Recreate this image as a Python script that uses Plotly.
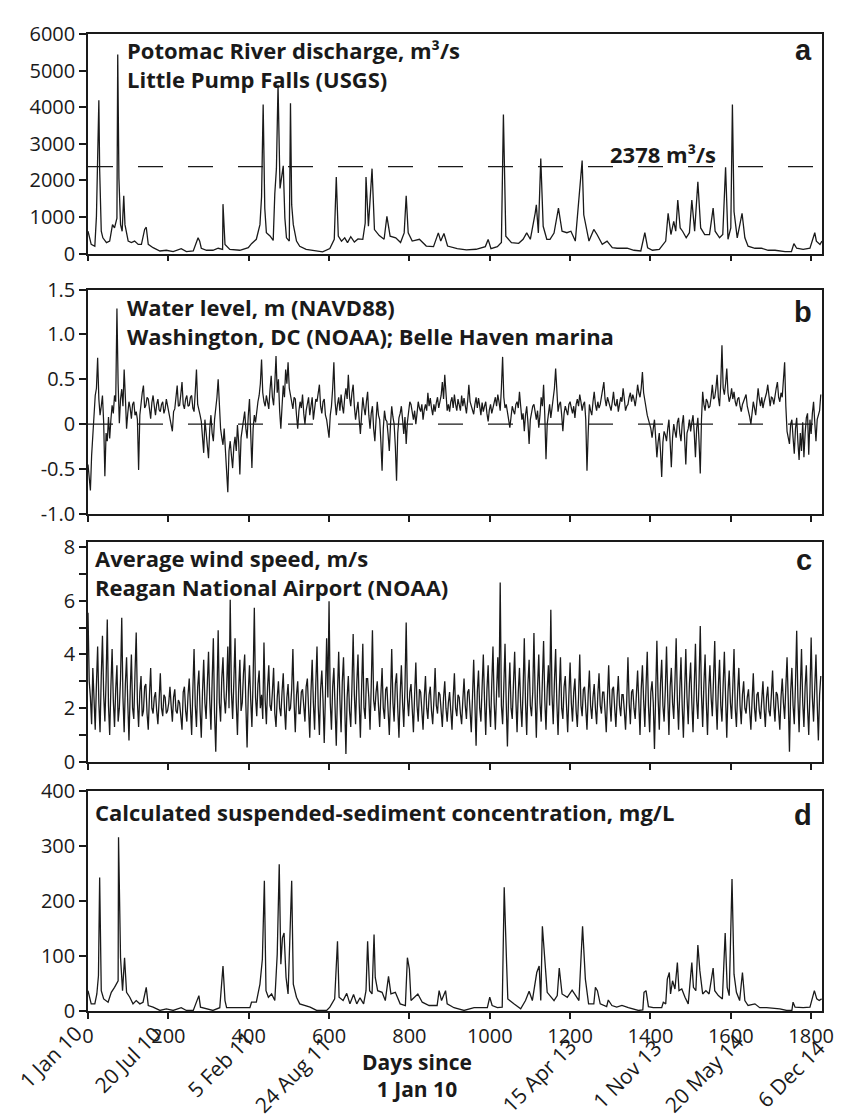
import plotly.graph_objects as go

# ---------------- data ----------------
# Panel a: Potomac River discharge (m3/s), (day since 1 Jan 10, value)
Q_POINTS = [
    (0, 610), (8, 250), (17, 200), (21, 1015), (27, 4190), (29, 2300), (33, 610), (37, 430),
    (46, 300), (54, 340), (61, 790), (66, 700), (72, 970), (74, 5440), (77, 2050), (81, 790),
    (85, 610), (89, 1580), (92, 790), (96, 540), (100, 340), (108, 300), (116, 340), (125, 250),
    (133, 250), (141, 660), (145, 720), (150, 250), (162, 160), (179, 70), (195, 90), (212, 55),
    (232, 135), (245, 55), (262, 70), (274, 430), (278, 340), (282, 145), (295, 90), (311, 90),
    (324, 145), (335, 115), (336, 1350), (341, 250), (353, 115), (378, 90), (399, 160), (407, 270),
    (419, 390), (428, 790), (432, 1550), (436, 4070), (440, 1240), (444, 570), (453, 480), (461, 360),
    (465, 1640), (469, 2320), (473, 4610), (478, 1780), (482, 2140), (486, 2400), (490, 970), (494, 430),
    (501, 340), (504, 4110), (507, 1330), (511, 790), (519, 340), (527, 200), (543, 117), (566, 72),
    (584, 45), (602, 135), (613, 390), (618, 2090), (623, 480), (631, 340), (639, 430), (646, 300),
    (654, 460), (663, 315), (672, 400), (684, 390), (690, 835), (692, 2090), (698, 745), (707, 2320),
    (713, 655), (725, 490), (737, 390), (744, 1015), (752, 475), (766, 430), (778, 300), (787, 565),
    (792, 1580), (797, 565), (807, 340), (825, 390), (842, 205), (860, 190), (872, 565), (878, 340),
    (886, 548), (895, 205), (919, 135), (942, 100), (966, 117), (989, 190), (996, 386), (1003, 135),
    (1019, 190), (1029, 300), (1034, 3800), (1040, 475), (1054, 300), (1072, 280), (1083, 390), (1092, 565),
    (1101, 390), (1113, 1100), (1116, 1330), (1121, 565), (1127, 2600), (1133, 745), (1142, 390), (1150, 390),
    (1160, 560), (1171, 1240), (1180, 610), (1192, 570), (1202, 610), (1213, 340), (1230, 2540), (1234, 1060),
    (1247, 340), (1259, 660), (1267, 520), (1280, 250), (1292, 340), (1305, 160), (1317, 145), (1342, 145),
    (1359, 90), (1376, 70), (1386, 570), (1393, 160), (1405, 90), (1422, 115), (1438, 340), (1444, 1100),
    (1451, 520), (1458, 880), (1463, 610), (1468, 1460), (1474, 700), (1480, 610), (1489, 430), (1497, 570),
    (1503, 1460), (1510, 610), (1518, 1960), (1525, 700), (1535, 520), (1547, 520), (1556, 1240), (1561, 610),
    (1572, 430), (1580, 520), (1587, 2360), (1593, 390), (1600, 700), (1604, 4070), (1608, 1150), (1616, 430),
    (1628, 1100), (1635, 430), (1643, 200), (1660, 145), (1676, 145), (1693, 90), (1710, 90), (1735, 55),
    (1751, 55), (1757, 270), (1764, 145), (1780, 115), (1797, 145), (1809, 570), (1813, 340), (1822, 250),
    (1827, 340),
]
Q_THRESHOLD = 2378

# Panel b: water level (m, NAVD88), one value every 3 days from day 0
WL_STEP_DAYS = 3
WL_VALUES = [
    -0.45, -0.62, -0.74, -0.35, -0.10, 0.12, 0.32, 0.40, 0.74, 0.28, 0.10, 0.20, 0.32, 0.02, -0.58, -0.10, -0.19, 0.08, -0.16, 0.05,
    0.21, 0.12, 0.32, 0.25, 1.29, 0.45, 0.01, 0.28, 0.39, 0.20, 0.61, 0.30, -0.05, 0.12, 0.25, 0.18, 0.06, 0.22, 0.25, 0.10,
    0.14, 0.05, -0.51, 0.10, 0.25, 0.35, 0.43, 0.18, 0.21, 0.30, 0.28, 0.15, 0.06, 0.24, 0.32, 0.20, 0.10, 0.22, 0.28, 0.16,
    0.14, 0.22, 0.25, 0.12, 0.17, 0.28, 0.21, 0.15, 0.10, 0.02, -0.08, 0.14, 0.17, 0.30, 0.43, 0.20, 0.21, 0.33, 0.47, 0.22,
    0.17, 0.28, 0.32, 0.20, 0.21, 0.30, 0.32, 0.18, 0.14, 0.36, 0.61, 0.22, 0.17, 0.10, 0.03, -0.15, -0.32, 0.05, -0.12, -0.25,
    -0.38, -0.05, 0.10, -0.10, -0.19, 0.05, 0.17, 0.30, 0.50, 0.12, -0.05, -0.15, -0.23, -0.05, -0.34, -0.50, -0.76, -0.30, -0.19, -0.35,
    -0.49, -0.25, -0.14, -0.30, -0.01, -0.20, -0.56, -0.15, -0.05, 0.05, 0.14, -0.05, -0.16, 0.10, 0.28, -0.10, -0.49, -0.05, 0.10, 0.02,
    0.17, 0.25, 0.32, 0.45, 0.72, 0.35, 0.25, 0.20, 0.32, 0.26, 0.17, 0.38, 0.54, 0.30, 0.21, 0.45, 0.76, 0.35, 0.50, 0.15,
    -0.05, 0.20, 0.43, 0.30, 0.61, 0.45, 0.69, 0.40, 0.32, 0.22, 0.17, 0.30, 0.28, 0.10, -0.05, 0.15, 0.25, 0.18, 0.33, 0.12,
    0.0, 0.15, 0.22, 0.30, 0.10, 0.20, 0.30, 0.05, 0.15, 0.28, 0.25, 0.35, 0.44, 0.20, 0.12, 0.25, 0.28, 0.10, 0.05, -0.05,
    -0.15, 0.10, 0.20, 0.40, 0.69, 0.25, 0.10, 0.22, 0.30, 0.15, 0.33, 0.20, 0.12, 0.30, 0.40, 0.28, 0.55, 0.30, 0.20, 0.35,
    0.44, 0.20, 0.05, 0.15, 0.25, 0.05, -0.11, 0.10, 0.30, 0.18, 0.10, 0.25, 0.36, 0.10, -0.05, 0.12, 0.20, -0.05, -0.19, 0.05,
    0.25, 0.10, 0.05, -0.20, -0.52, -0.05, 0.15, 0.05, 0.03, -0.12, -0.30, 0.0, 0.20, 0.08, 0.0, -0.25, -0.63, -0.10, 0.07, 0.12,
    0.20, 0.05, -0.11, 0.08, -0.22, 0.02, 0.15, 0.25, 0.22, 0.12, 0.05, 0.15, 0.0, 0.12, 0.25, 0.18, 0.14, 0.22, 0.05, 0.16,
    0.22, 0.15, 0.35, 0.20, 0.29, 0.18, 0.10, 0.22, 0.14, 0.24, 0.30, 0.18, 0.25, 0.32, 0.47, 0.28, 0.55, 0.30, 0.15, 0.22,
    0.14, 0.25, 0.30, 0.18, 0.33, 0.22, 0.15, 0.28, 0.22, 0.15, 0.32, 0.20, 0.29, 0.18, 0.12, 0.26, 0.44, 0.25, 0.20, 0.15,
    0.11, 0.22, 0.30, 0.18, 0.29, 0.20, 0.10, 0.24, 0.14, 0.20, 0.25, 0.12, 0.03, 0.16, 0.22, 0.12, 0.18, 0.25, 0.30, 0.20,
    0.33, 0.25, 0.15, 0.40, 0.75, 0.30, 0.18, 0.22, 0.10, 0.05, -0.04, 0.12, 0.20, 0.15, 0.11, 0.22, 0.25, 0.18, 0.36, 0.20,
    0.05, 0.12, -0.08, 0.10, 0.20, 0.02, -0.22, 0.05, 0.15, 0.20, 0.22, 0.12, 0.05, 0.15, -0.04, 0.10, 0.30, 0.20, 0.44, 0.10,
    -0.39, 0.0, 0.15, 0.22, 0.07, 0.20, 0.30, 0.40, 0.62, 0.30, 0.14, 0.22, 0.25, 0.10, -0.08, 0.12, 0.20, 0.15, 0.10, 0.22,
    0.25, 0.18, 0.12, 0.20, 0.07, 0.22, 0.28, 0.20, 0.33, 0.25, 0.15, 0.22, 0.25, 0.05, -0.52, -0.10, 0.22, 0.15, 0.10, 0.25,
    0.36, 0.22, 0.15, 0.25, 0.18, 0.22, 0.30, 0.35, 0.47, 0.28, 0.20, 0.30, 0.25, 0.18, 0.15, 0.25, 0.36, 0.22, 0.20, 0.28,
    0.14, 0.22, 0.30, 0.25, 0.40, 0.28, 0.15, 0.20, 0.22, 0.30, 0.35, 0.25, 0.33, 0.28, 0.20, 0.30, 0.44, 0.35, 0.30, 0.40,
    0.58, 0.35, 0.25, 0.15, 0.10, 0.05, 0.0, -0.05, -0.15, -0.02, 0.05, -0.15, -0.37, -0.20, -0.10, -0.30, -0.59, -0.20, -0.08, -0.12,
    -0.19, -0.05, 0.05, -0.20, -0.48, -0.15, 0.0, -0.08, -0.15, 0.02, 0.07, -0.10, -0.19, 0.0, 0.10, -0.15, -0.45, -0.10, -0.05, 0.05,
    -0.08, 0.02, 0.10, -0.10, -0.37, -0.05, 0.07, -0.20, -0.55, 0.05, 0.36, 0.22, 0.15, 0.28, 0.25, 0.18, 0.20, 0.30, 0.44, 0.28,
    0.30, 0.40, 0.55, 0.30, 0.20, 0.45, 0.88, 0.40, 0.33, 0.45, 0.62, 0.35, 0.25, 0.30, 0.40, 0.28, 0.36, 0.25, 0.20, 0.28,
    0.30, 0.20, 0.14, 0.22, 0.25, 0.30, 0.33, 0.20, 0.15, 0.08, 0.0, 0.15, 0.25, 0.18, 0.10, 0.25, 0.40, 0.28, 0.20, 0.30,
    0.18, 0.25, 0.30, 0.35, 0.44, 0.28, 0.20, 0.30, 0.29, 0.22, 0.35, 0.40, 0.47, 0.30, 0.25, 0.35, 0.30, 0.45, 0.69, 0.20,
    -0.08, -0.15, -0.22, 0.0, 0.05, -0.15, -0.33, -0.05, 0.07, -0.20, -0.40, -0.10, -0.30, 0.02, -0.37, -0.10, 0.07, 0.12, -0.34, 0.05,
    -0.11, 0.12, 0.25, 0.02, -0.19, 0.05, 0.10, 0.15, 0.33,
]

# Panel c: average wind speed (m/s), one value every 3 days from day 0
WS_STEP_DAYS = 3
WS_VALUES = [
    5.55, 3.0, 2.4, 1.4, 3.5, 2.6, 1.2, 2.9, 4.3, 2.2, 1.1, 3.2, 4.7, 2.5, 1.5, 3.0, 5.3, 2.1, 1.0, 2.8,
    4.2, 2.3, 1.3, 2.7, 3.6, 1.5, 2.0, 3.1, 5.37, 2.4, 1.1, 2.9, 3.9, 2.2, 0.8, 2.6, 4.0, 2.0, 1.6, 3.3,
    4.82, 2.2, 1.3, 2.6, 3.2, 1.7, 1.9, 2.8, 2.9, 1.8, 1.2, 2.5, 3.5, 2.0, 1.8, 2.4, 2.6, 1.9, 1.4, 2.3,
    3.3, 2.0, 1.7, 2.5, 2.4, 1.8, 1.9, 2.2, 2.8, 2.1, 1.5, 2.4, 2.7, 1.9, 1.8, 2.3, 2.2, 1.7, 1.2, 2.6,
    2.8, 1.9, 1.5, 2.5, 3.1, 2.0, 1.0, 2.7, 4.2, 2.1, 1.3, 2.8, 3.4, 1.9, 0.9, 2.6, 3.8, 2.2, 1.6, 2.9,
    4.1, 2.3, 1.2, 3.0, 4.6, 1.8, 0.38, 2.5, 4.9, 2.2, 1.5, 3.1, 3.9, 2.4, 1.8, 2.7, 4.3, 2.0, 6.04, 2.6,
    1.6, 3.0, 4.6, 2.2, 1.0, 2.7, 3.8, 1.9, 2.2, 3.3, 4.0, 2.1, 0.54, 2.6, 3.6, 2.3, 1.3, 3.1, 5.74, 2.4,
    1.7, 2.9, 3.4, 2.0, 2.5, 1.6, 4.45, 2.3, 1.4, 2.8, 3.6, 2.1, 1.9, 2.6, 3.5, 1.8, 1.3, 2.4, 3.0, 2.0,
    1.7, 2.6, 3.3, 2.0, 1.2, 2.4, 2.9, 1.9, 2.0, 2.7, 4.2, 2.2, 1.1, 2.5, 3.0, 1.8, 1.8, 2.6, 2.7, 2.1,
    1.5, 2.8, 3.1, 2.0, 0.9, 2.6, 3.8, 2.2, 1.2, 2.9, 4.3, 2.1, 1.0, 2.7, 3.4, 2.3, 0.7, 2.5, 4.6, 2.4,
    5.98, 2.2, 1.2, 2.8, 3.5, 2.0, 0.6, 2.6, 4.1, 2.3, 1.1, 3.0, 3.9, 2.1, 0.29, 2.4, 3.2, 1.9, 1.3, 2.8,
    4.76, 2.5, 1.4, 2.9, 4.0, 2.2, 0.9, 2.7, 4.4, 2.0, 1.6, 3.1, 3.1, 2.4, 1.2, 2.8, 4.9, 2.3, 1.9, 2.6,
    3.0, 2.1, 1.3, 2.5, 3.5, 2.0, 1.6, 2.7, 2.8, 1.9, 1.0, 2.4, 4.2, 2.2, 1.5, 2.9, 3.3, 2.0, 0.9, 2.5,
    3.6, 2.2, 1.3, 2.8, 5.19, 2.4, 1.7, 2.6, 2.9, 2.0, 1.1, 2.5, 3.7, 2.1, 1.5, 2.7, 2.6, 1.9, 1.2, 2.4,
    3.2, 2.0, 1.6, 2.5, 2.8, 1.9, 1.4, 2.3, 3.5, 2.1, 1.8, 2.6, 2.5, 1.9, 1.3, 2.4, 3.0, 2.0, 1.5, 2.2,
    2.6, 1.9, 1.2, 2.4, 3.3, 2.0, 1.7, 2.5, 2.4, 1.8, 1.4, 2.3, 3.1, 2.1, 1.6, 2.6, 2.7, 1.9, 1.1, 2.4,
    3.8, 2.2, 0.6, 2.6, 3.4, 2.0, 1.5, 2.8, 4.0, 2.3, 1.0, 2.7, 3.6, 2.1, 1.3, 2.9, 4.3, 2.2, 1.2, 2.6,
    3.9, 2.4, 6.68, 2.1, 1.4, 2.8, 4.4, 2.2, 0.57, 2.5, 3.7, 2.0, 1.6, 2.9, 4.1, 2.3, 1.1, 2.6, 3.5, 2.1,
    1.3, 2.7, 4.6, 2.2, 1.0, 2.9, 3.8, 2.1, 1.7, 2.6, 4.8, 2.4, 0.9, 2.8, 4.0, 2.2, 1.5, 3.0, 4.5, 2.3,
    1.2, 2.7, 3.6, 2.1, 5.67, 2.5, 1.4, 3.0, 4.2, 2.2, 1.0, 2.6, 3.9, 2.0, 1.6, 2.8, 3.2, 2.1, 1.1, 2.5,
    3.7, 2.2, 1.5, 2.6, 3.1, 1.9, 1.3, 2.4, 4.0, 2.1, 1.7, 2.7, 2.8, 2.0, 1.2, 2.5, 3.4, 2.1, 1.6, 2.4,
    2.9, 2.0, 1.4, 2.5, 3.3, 2.1, 1.8, 2.6, 2.6, 1.9, 1.1, 2.4, 3.6, 2.2, 1.5, 2.7, 2.8, 2.0, 1.3, 2.4,
    3.2, 2.1, 1.7, 2.5, 2.5, 1.9, 1.2, 2.3, 3.9, 2.2, 1.4, 2.6, 2.7, 2.0, 1.6, 2.5, 3.4, 2.2, 1.0, 2.7,
    3.6, 2.3, 1.3, 2.8, 4.1, 2.1, 1.1, 2.6, 3.0, 2.2, 0.48, 2.5, 4.51, 2.4, 1.2, 2.9, 3.8, 2.1, 1.5, 2.7,
    4.3, 2.4, 1.0, 2.8, 3.5, 2.2, 1.6, 3.0, 4.6, 2.3, 1.2, 2.7, 3.9, 2.1, 0.9, 2.6, 4.2, 2.4, 1.4, 2.9,
    3.7, 2.2, 1.1, 2.8, 4.4, 2.3, 1.6, 3.0, 5.06, 2.5, 1.3, 2.9, 4.0, 2.2, 1.0, 2.7, 3.6, 2.4, 1.7, 3.1,
    4.5, 2.3, 1.2, 2.8, 3.8, 2.1, 1.5, 2.9, 4.1, 2.4, 0.9, 2.6, 3.4, 2.2, 1.6, 2.8, 4.2, 2.0, 1.3, 2.6,
    3.5, 2.1, 1.4, 2.5, 3.0, 2.0, 1.8, 2.4, 2.7, 1.9, 1.2, 2.3, 3.3, 2.0, 1.5, 2.5, 2.6, 1.9, 1.6, 2.3,
    3.0, 2.0, 1.3, 2.4, 2.8, 1.9, 1.7, 2.5, 3.4, 2.1, 1.5, 2.6, 2.5, 1.9, 1.2, 2.4, 3.1, 2.2, 1.6, 2.8,
    3.9, 2.3, 0.38, 2.6, 3.5, 2.1, 1.4, 2.9, 4.88, 2.4, 1.1, 2.7, 4.2, 2.2, 1.3, 2.8, 3.6, 2.0, 1.0, 2.6,
    4.63, 2.4, 1.5, 2.8, 4.0, 2.2, 0.8, 2.5, 3.2,
]

# Panel d: calculated suspended-sediment concentration (mg/L), (day, value)
SSC_POINTS = [
    (0, 37), (8, 13), (17, 13), (22, 31), (26, 64), (29, 243), (33, 37), (39, 22), (50, 16), (58, 34),
    (66, 43), (75, 55), (76, 316), (81, 97), (86, 37), (91, 97), (96, 34), (104, 25), (112, 13), (120, 19),
    (129, 13), (137, 16), (145, 43), (150, 10), (162, 7), (179, 1), (195, 4), (212, 1), (232, 6), (245, 1),
    (262, 1), (276, 28), (280, 7), (295, 4), (311, 1), (328, 6), (336, 82), (341, 19), (345, 6), (378, 6),
    (403, 6), (407, 16), (419, 16), (428, 49), (434, 94), (439, 237), (443, 37), (449, 25), (457, 31), (465, 19),
    (471, 103), (476, 267), (480, 85), (484, 133), (488, 142), (493, 61), (498, 31), (507, 237), (511, 49), (519, 25),
    (527, 13), (553, 7), (569, 1), (594, 1), (602, 7), (614, 22), (621, 127), (625, 25), (635, 19), (644, 32),
    (652, 13), (661, 30), (669, 13), (677, 24), (686, 13), (692, 37), (696, 127), (701, 37), (707, 31), (712, 139),
    (715, 61), (721, 37), (732, 34), (740, 19), (748, 63), (754, 31), (765, 34), (777, 13), (790, 10), (795, 97),
    (800, 76), (804, 19), (821, 31), (832, 16), (849, 10), (869, 10), (874, 37), (880, 19), (885, 30), (890, 37),
    (894, 13), (911, 6), (936, 1), (961, 6), (994, 6), (1000, 25), (1006, 10), (1019, 6), (1031, 7), (1036, 225),
    (1042, 85), (1045, 22), (1060, 13), (1077, 4), (1089, 19), (1098, 36), (1106, 19), (1117, 70), (1123, 82), (1127, 19),
    (1131, 154), (1139, 61), (1143, 34), (1160, 19), (1168, 28), (1173, 78), (1180, 31), (1193, 25), (1205, 38), (1214, 28),
    (1222, 19), (1231, 154), (1238, 58), (1246, 13), (1259, 13), (1263, 43), (1268, 37), (1275, 13), (1291, 8), (1295, 20),
    (1304, 10), (1316, 7), (1329, 10), (1345, 6), (1358, 4), (1370, 1), (1381, 2), (1384, 34), (1389, 37), (1395, 8),
    (1407, 6), (1428, 6), (1432, 16), (1438, 13), (1442, 58), (1447, 70), (1450, 31), (1455, 55), (1461, 40), (1467, 88),
    (1471, 37), (1478, 40), (1486, 25), (1494, 13), (1503, 88), (1507, 43), (1513, 37), (1518, 120), (1523, 73), (1530, 31),
    (1538, 37), (1546, 31), (1556, 78), (1560, 37), (1569, 28), (1579, 22), (1586, 142), (1591, 43), (1596, 28), (1603, 240),
    (1608, 67), (1614, 34), (1622, 19), (1629, 70), (1635, 19), (1643, 10), (1660, 13), (1672, 6), (1689, 6), (1722, 4),
    (1739, 1), (1752, 1), (1755, 16), (1760, 7), (1780, 6), (1797, 7), (1808, 37), (1814, 22), (1820, 19), (1826, 22),
]

X_TICKS = [0, 200, 400, 600, 800, 1000, 1200, 1400, 1600, 1800]
DATE_TICK_LABELS = ["1 Jan 10", "20 Jul 10", "5 Feb 11", "24 Aug 11",
                    "15 Apr 13", "1 Nov 13", "20 May 14", "6 Dec 14"]

# ---------------- layout geometry ----------------
# The page body has an 8px margin, so the figure is drawn 8px smaller and
# every pixel position below is given in page coordinates.
PAGE_OFF = 8
W, H = 846 - PAGE_OFF, 1119 - PAGE_OFF
ML, MR, MT, MB = 80, 24, 12, 108
PLOT_H = H - MT - MB
PLOT_W = W - ML - MR
X_MAX = 1827

def py(ypage):
    return (H - MB - (ypage - PAGE_OFF)) / PLOT_H

def pxf(xpage):
    return ((xpage - PAGE_OFF) - ML) / PLOT_W

INK = "#1a1a1a"
FONT = "'Open Sans', Lato, sans-serif"
TICK_FONT = dict(family=FONT, size=20, color=INK)

fig = go.Figure()
line = dict(color=INK, width=1.3)

fig.add_trace(go.Scatter(x=[p[0] for p in Q_POINTS], y=[p[1] for p in Q_POINTS],
                         mode="lines", line=line, xaxis="x", yaxis="y", hoverinfo="skip"))
fig.add_trace(go.Scatter(x=[i * WL_STEP_DAYS for i in range(len(WL_VALUES))], y=WL_VALUES,
                         mode="lines", line=dict(color=INK, width=1.25), xaxis="x2", yaxis="y2",
                         hoverinfo="skip"))
fig.add_trace(go.Scatter(x=[i * WS_STEP_DAYS for i in range(len(WS_VALUES))], y=WS_VALUES,
                         mode="lines", line=dict(color=INK, width=1.3), xaxis="x3", yaxis="y3",
                         hoverinfo="skip"))
fig.add_trace(go.Scatter(x=[p[0] for p in SSC_POINTS], y=[p[1] for p in SSC_POINTS],
                         mode="lines", line=line, xaxis="x4", yaxis="y4", hoverinfo="skip"))

def axis_common():
    return dict(showline=True, linecolor=INK, linewidth=1.5, mirror=True,
                ticks="outside", ticklen=7, tickwidth=1.5, tickcolor=INK,
                showgrid=False, zeroline=False, tickfont=TICK_FONT)

domains = {
    1: [py(242.7), 1.0],
    2: [py(506.7), py(279.3)],
    3: [py(758.3), py(535)],
    4: [0.0, py(788)],
}

for k in range(1, 5):
    xa = axis_common()
    xa.update(domain=[0, 1], range=[0, X_MAX], tickmode="array", tickvals=X_TICKS,
              ticktext=[str(v) for v in X_TICKS], showticklabels=(k == 4), ticklen=6,
              anchor="y" if k == 1 else f"y{k}")
    fig.update_layout(**{("xaxis" if k == 1 else f"xaxis{k}"): xa})

ya1 = axis_common(); ya1.update(domain=domains[1], range=[0, 6000], tickmode="linear",
                               tick0=0, dtick=1000, anchor="x")
ya2 = axis_common(); ya2.update(domain=domains[2], range=[-1.0, 1.5], tickmode="array",
                               tickvals=[-1.0, -0.5, 0, 0.5, 1.0, 1.5],
                               ticktext=["-1.0", "-0.5", "0", "0.5", "1.0", "1.5"], anchor="x2")
ya3 = axis_common(); ya3.update(domain=domains[3], range=[0, 8.2], tickmode="linear",
                               tick0=0, dtick=2, anchor="x3",
                               minor=dict(dtick=1, ticks="outside", ticklen=7, tickwidth=1.5,
                                          tickcolor=INK, showgrid=False))
ya4 = axis_common(); ya4.update(domain=domains[4], range=[0, 400], tickmode="linear",
                               tick0=0, dtick=100, anchor="x4")
fig.update_layout(yaxis=ya1, yaxis2=ya2, yaxis3=ya3, yaxis4=ya4)

shapes = [
    dict(type="line", xref="x domain", x0=0, x1=1, yref="y", y0=Q_THRESHOLD, y1=Q_THRESHOLD,
         line=dict(color=INK, width=1.3, dash="25px,25px")),
    dict(type="line", xref="x2 domain", x0=0, x1=1, yref="y2", y0=0, y1=0, layer="below",
         line=dict(color=INK, width=1.3, dash="25px,25px")),
]

annotations = []
TITLE_FONT = dict(family=FONT, size=22, color=INK)

def text_block(txt, x_left, cap_top, font=TITLE_FONT, off=9):
    annotations.append(dict(text=txt, xref="paper", yref="paper", x=pxf(x_left - 2), y=py(cap_top - off),
                            xanchor="left", yanchor="top", showarrow=False, font=font, align="left"))

text_block("<b>Potomac River discharge, m³/s<br>Little Pump Falls (USGS)</b>", 127, 28)
text_block("<b>Water level, m (NAVD88)<br>Washington, DC (NOAA); Belle Haven marina</b>", 127, 289)
text_block("<b>Average wind speed, m/s<br>Reagan National Airport (NOAA)</b>", 95, 543)
text_block("<b>Calculated suspended-sediment concentration, mg/L</b>", 95, 801)
text_block("<b>2378 m³/s</b>", 610, 133)

LETTER_FONT = dict(family="'Liberation Sans', Arial, sans-serif", size=29, color=INK)
for letter, top in [("a", 18), ("b", 284), ("c", 535), ("d", 794)]:
    annotations.append(dict(text=f"<b>{letter}</b>", xref="paper", yref="paper", x=pxf(814), y=py(top),
                            xanchor="right", yanchor="top", showarrow=False, font=LETTER_FONT))

# x-axis title
annotations.append(dict(text="<b>Days since<br>1 Jan 10</b>", xref="paper", yref="paper",
                        x=pxf(417), y=py(1056 - 9), xanchor="center", yanchor="top",
                        showarrow=False, font=dict(family=FONT, size=21, color=INK)))

# rotated calendar-date labels (page-pixel anchor of each rotated box: right edge, top edge)
DATE_FONT = dict(family=FONT, size=21, color=INK)
date_anchor_px = [(90, 1017), (170, 1017), (262, 1022), (340, 1027),
                  (585, 1029), (670, 1031), (752, 1025), (833, 1032)]
for lab, (xr, yt) in zip(DATE_TICK_LABELS, date_anchor_px):
    annotations.append(dict(text=lab, xref="paper", yref="paper", x=pxf(xr), y=py(yt),
                            xanchor="right", yanchor="top", textangle=-45, showarrow=False,
                            font=DATE_FONT))

fig.update_layout(width=W, height=H, margin=dict(l=ML, r=MR, t=MT, b=MB),
                  paper_bgcolor="white", plot_bgcolor="white", showlegend=False,
                  shapes=shapes, annotations=annotations)

fig.write_html("out.html")
